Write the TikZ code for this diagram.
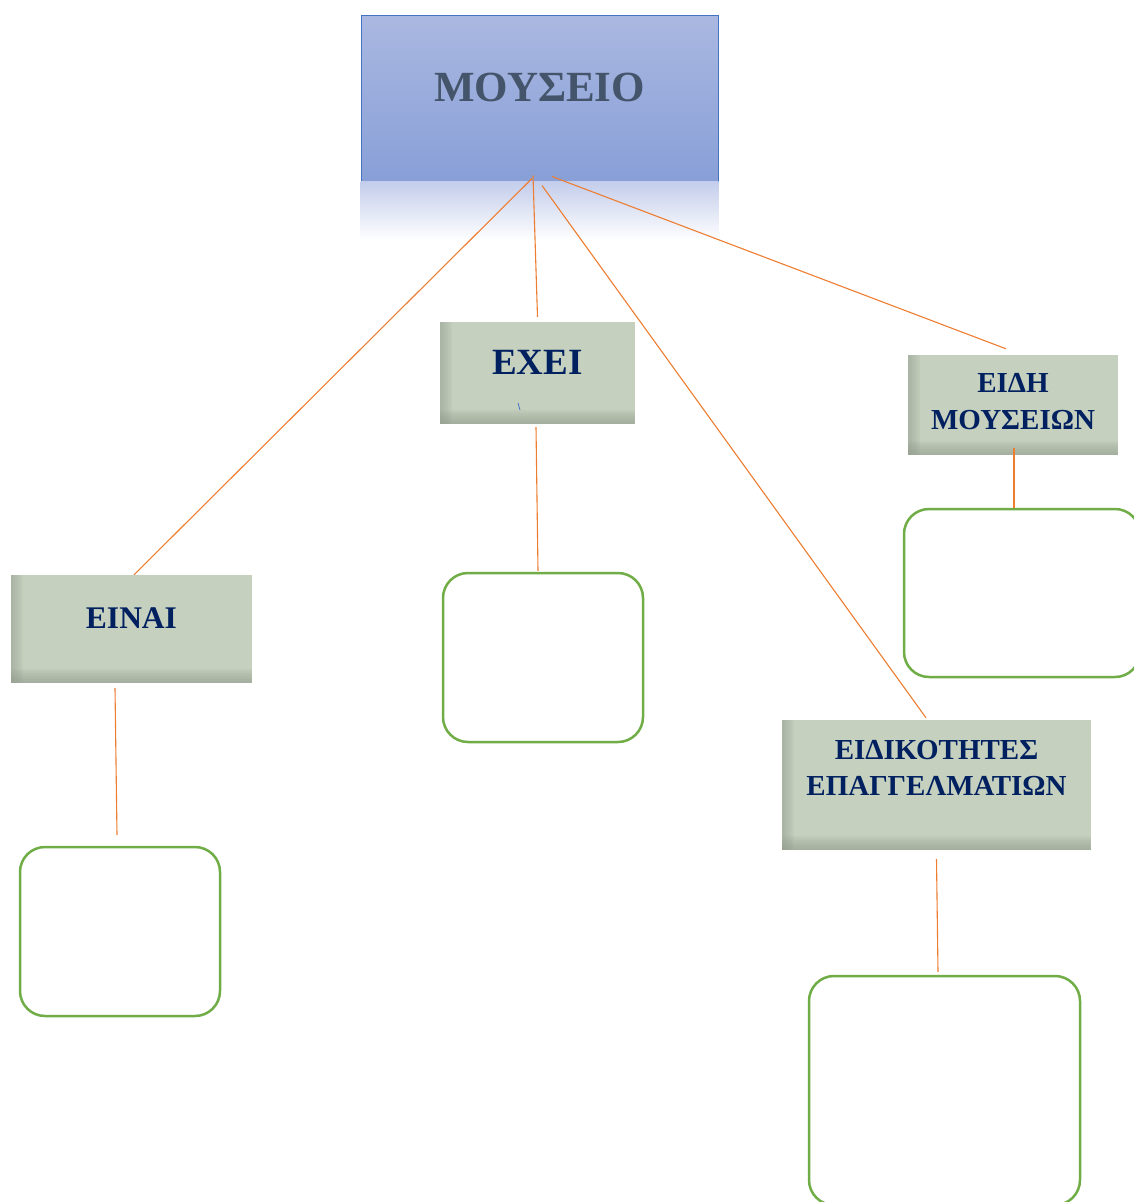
\documentclass[tikz,border=0pt]{standalone}
\usepackage{fontspec}
\setmainfont{Liberation Serif}
\definecolor{sage}{HTML}{C6D0BE}
\definecolor{sagedark}{HTML}{8E9889}
\definecolor{navy}{HTML}{002060}
\definecolor{slate}{HTML}{44546A}
\definecolor{museumtop}{HTML}{AAB8E1}
\definecolor{museumbot}{HTML}{889FD7}
\definecolor{museumedge}{HTML}{4472C4}
\definecolor{glow}{HTML}{C3CDEB}
\definecolor{linkorange}{HTML}{ED7D31}
\definecolor{boxgreen}{HTML}{70AD47}

\begin{document}
\begin{tikzpicture}[x=1pt,y=-1pt,
  main node/.style={rectangle,inner sep=0pt,top color=museumtop,bottom color=museumbot,draw=museumedge,line width=1pt},
  topic node/.style={rectangle,inner sep=0pt,fill=sage,path picture={
    \foreach \w in {2,4,...,12}
      \fill[sagedark,fill opacity=0.09] (path picture bounding box.south west) rectangle ([xshift=\w pt]path picture bounding box.north west);
    \foreach \h in {2,4,...,14}
      \fill[sagedark,fill opacity=0.1] (path picture bounding box.south west) rectangle ([yshift=\h pt]path picture bounding box.south east);}},
  head/.style={font=\bfseries\fontsize{29}{36.5}\selectfont,text=navy,align=center},
  answer node/.style={rectangle,rounded corners=25pt,draw=boxgreen,line width=2.5pt,fill=white,inner sep=0pt},
  link/.style={draw=linkorange,line width=1.1pt}]
  \useasboundingbox (0,0) rectangle (1134,1202);
  \clip (0,0) rectangle (1134,1202);

  \node[main node,minimum width=357pt,minimum height=166pt,
    label={[head,text=slate,font=\bfseries\fontsize{43}{50}\selectfont,yshift=11pt]center:ΜΟΥΣΕΙΟ}] (museum) at (539.5,98) {};
  \shade[top color=glow,bottom color=white] (museum.south west) rectangle ([yshift=-59pt]museum.south east);

  \node[topic node,minimum width=195pt,minimum height=102pt,
    label={[head,font=\bfseries\fontsize{37}{44}\selectfont,yshift=11pt]center:ΕΧΕΙ}] (exei) at (537.5,373) {};
  \node[topic node,minimum width=241pt,minimum height=108pt,
    label={[head,font=\bfseries\fontsize{31.5}{38}\selectfont,yshift=10.5pt]center:ΕΙΝΑΙ}] (einai) at (131.5,629) {};
  \node[topic node,minimum width=210pt,minimum height=100pt,
    label={[head,yshift=3.5pt]center:{ΕΙΔΗ\\ΜΟΥΣΕΙΩΝ}}] (types) at (1013,405) {};
  \node[topic node,minimum width=309pt,minimum height=130pt,
    label={[head,yshift=17pt]center:{ΕΙΔΙΚΟΤΗΤΕΣ\\ΕΠΑΓΓΕΛΜΑΤΙΩΝ}}] (jobs) at (936.5,785) {};
  \draw[museumedge,line width=0.8pt] (518,403) -- (520,410);

  \node[answer node,minimum width=200pt,minimum height=169pt] (einai box) at (120,931.5) {};
  \node[answer node,minimum width=200pt,minimum height=169pt] (exei box) at (543,657.5) {};
  \node[answer node,minimum width=236pt,minimum height=168pt] (types box) at (1022,593) {};
  \node[answer node,minimum width=271pt,minimum height=229pt] (jobs box) at (944.5,1090.5) {};

\path[link]
  ([xshift=-7.5pt,yshift=3pt]museum.south) edge ([xshift=2.5pt]einai.north)
  ([xshift=-6.5pt,yshift=6pt]museum.south) edge ([yshift=5pt]exei.north)
  ([xshift=2.5pt,yshift=-4pt]museum.south) edge ([xshift=-10.5pt,yshift=2pt]jobs.north)
  ([xshift=12.5pt,yshift=5pt]museum.south) edge ([xshift=-7pt,yshift=6pt]types.north)
  ([xshift=-1.5pt,yshift=-3pt]exei.south) edge ([xshift=-5pt,yshift=1pt]exei box.north)
  ([xshift=-16.5pt,yshift=-5pt]einai.south) edge ([xshift=-3pt,yshift=11pt]einai box.north)
  ([xshift=1pt,yshift=7pt]types.south) edge ([xshift=-8pt]types box.north)
  ([yshift=-9pt]jobs.south) edge ([xshift=-6.5pt,yshift=3pt]jobs box.north)
;
\end{tikzpicture}
\end{document}
